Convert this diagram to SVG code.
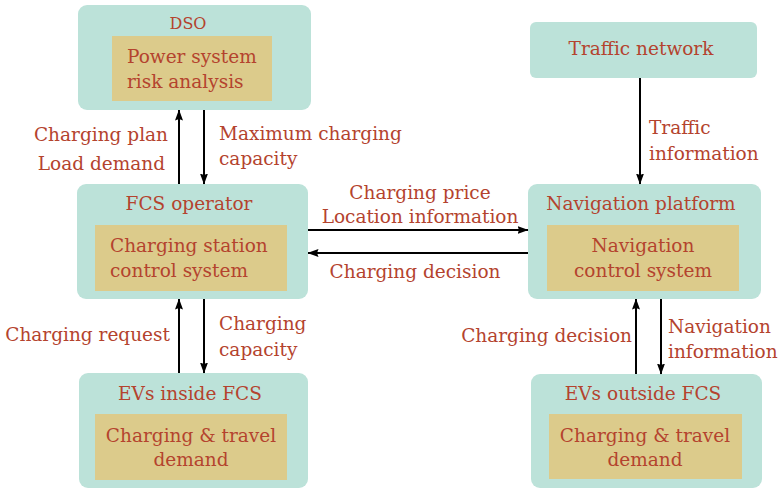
<svg xmlns="http://www.w3.org/2000/svg" width="781" height="488" viewBox="0 0 781 488">
  <defs>
    <marker id="arrow" viewBox="0 0 11 8" refX="10.5" refY="4" markerWidth="11" markerHeight="8" markerUnits="userSpaceOnUse" orient="auto">
      <path d="M0,0 L11,4 L0,8 L1.5,4 Z" fill="#000"/>
    </marker>
    <style>
      .outer { fill: #bce2d9; }
      .inner { fill: #dccb8b; }
      text { font-family: "DejaVu Serif", serif; font-size: 18.5px; fill: #b4432e; }
      .mid { text-anchor: middle; }
      .end { text-anchor: end; }
      .small { font-size: 16px; }
      .link { stroke: #000; stroke-width: 2; fill: none; marker-end: url(#arrow); }
    </style>
  </defs>

  <rect width="781" height="488" fill="#fff"/>

  <!-- DSO -->
  <g id="dso">
    <rect class="outer" x="78" y="5" width="233" height="105" rx="9"/>
    <rect class="inner" x="112" y="36" width="160" height="65"/>
    <text class="mid small" x="188" y="29">DSO</text>
    <text x="127" y="63">Power system</text>
    <text x="127" y="88">risk analysis</text>
  </g>

  <!-- Traffic network -->
  <g id="traffic">
    <rect class="outer" x="530" y="22" width="227" height="56" rx="6"/>
    <text class="mid" x="641" y="55">Traffic network</text>
  </g>

  <!-- FCS operator -->
  <g id="fcs">
    <rect class="outer" x="77" y="184" width="231" height="115" rx="9"/>
    <rect class="inner" x="95" y="225" width="192" height="66"/>
    <text class="mid" x="189" y="210">FCS operator</text>
    <text x="110" y="252">Charging station</text>
    <text x="110" y="277">control system</text>
  </g>

  <!-- Navigation platform -->
  <g id="nav">
    <rect class="outer" x="528" y="184" width="233" height="115" rx="9"/>
    <rect class="inner" x="547" y="225" width="192" height="66"/>
    <text class="mid" x="641" y="210">Navigation platform</text>
    <text class="mid" x="643" y="252">Navigation</text>
    <text class="mid" x="643" y="277">control system</text>
  </g>

  <!-- EVs inside FCS -->
  <g id="ev-in">
    <rect class="outer" x="79" y="373" width="229" height="115" rx="9"/>
    <rect class="inner" x="95" y="414" width="192" height="66"/>
    <text class="mid" x="190" y="400">EVs inside FCS</text>
    <text class="mid" x="191" y="442">Charging &amp; travel</text>
    <text class="mid" x="191" y="466">demand</text>
  </g>

  <!-- EVs outside FCS -->
  <g id="ev-out">
    <rect class="outer" x="531" y="374" width="231" height="114" rx="9"/>
    <rect class="inner" x="549" y="414" width="193" height="65"/>
    <text class="mid" x="643" y="400">EVs outside FCS</text>
    <text class="mid" x="645" y="442">Charging &amp; travel</text>
    <text class="mid" x="645" y="466">demand</text>
  </g>

  <!-- Connectors -->
  <g id="connectors">
    <line class="link" x1="179" y1="184" x2="179" y2="110"/>
    <line class="link" x1="204" y1="110" x2="204" y2="184"/>
    <line class="link" x1="308" y1="230" x2="528" y2="230"/>
    <line class="link" x1="528" y1="253" x2="308" y2="253"/>
    <line class="link" x1="640" y1="78" x2="640" y2="184"/>
    <line class="link" x1="179" y1="373" x2="179" y2="299"/>
    <line class="link" x1="204" y1="299" x2="204" y2="373"/>
    <line class="link" x1="636" y1="374" x2="636" y2="299"/>
    <line class="link" x1="661" y1="299" x2="661" y2="374"/>

    <text class="end" x="168" y="141">Charging plan</text>
    <text class="end" x="165" y="170">Load demand</text>
    <text x="219" y="140">Maximum charging</text>
    <text x="219" y="165">capacity</text>

    <text class="mid" x="420" y="199">Charging price</text>
    <text class="mid" x="420" y="223">Location information</text>
    <text class="mid" x="415" y="278">Charging decision</text>

    <text x="649" y="134">Traffic</text>
    <text x="649" y="160">information</text>

    <text class="end" x="170" y="341">Charging request</text>
    <text x="219" y="330">Charging</text>
    <text x="219" y="356">capacity</text>

    <text class="end" x="632" y="342">Charging decision</text>
    <text x="668" y="333">Navigation</text>
    <text x="668" y="358">information</text>
  </g>
</svg>
